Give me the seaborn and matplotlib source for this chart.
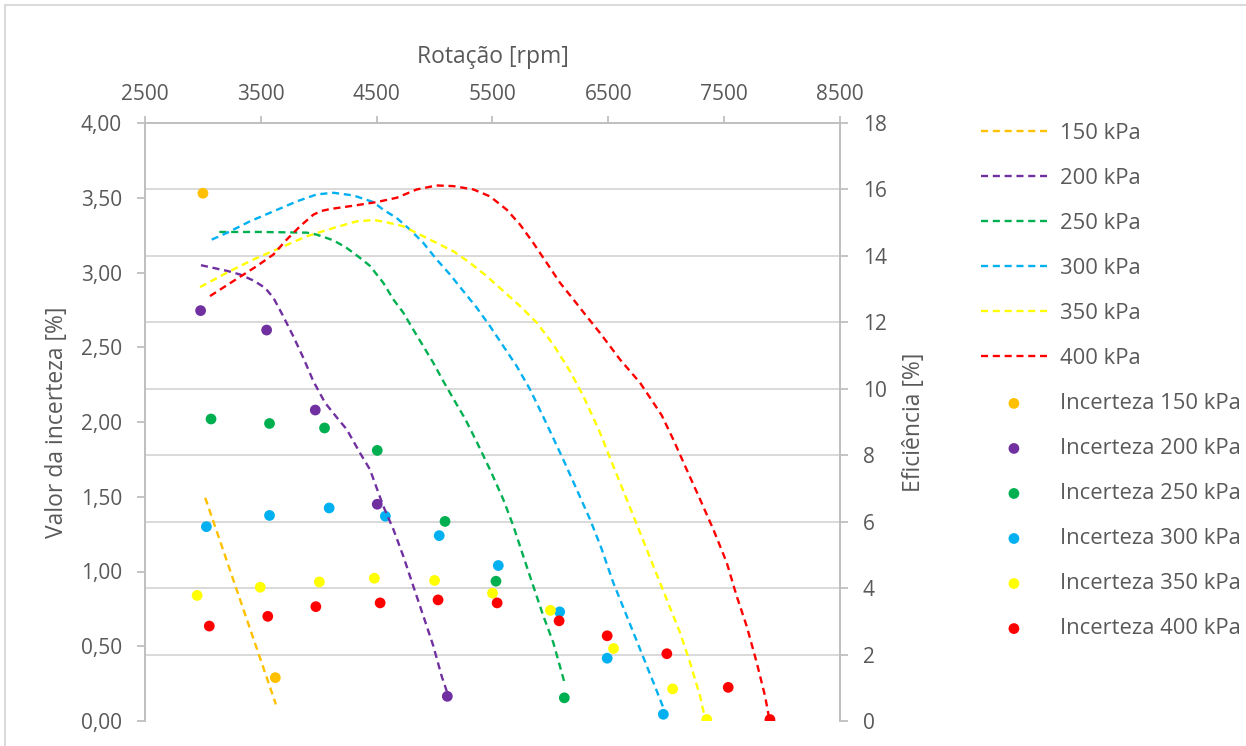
import numpy as np
import pandas as pd
import matplotlib
matplotlib.use("Agg")
import matplotlib.pyplot as plt
import seaborn as sns
from matplotlib.patches import Rectangle
from matplotlib.ticker import FuncFormatter

# ---------------- data ----------------
pressures = ["150 kPa", "200 kPa", "250 kPa", "300 kPa", "350 kPa", "400 kPa"]
colors = ["#FFC000", "#7030A0", "#00B050", "#00B0F0", "#FFFF00", "#FF0000"]

# efficiency curves (right axis, %)
eff_rpm_150 = [3020, 3630]
eff_150 = [6.72, 0.50]

eff_rpm_200 = [2983, 3219, 3320, 3435, 3536, 3608, 3694, 3780, 3867, 3953, 4054, 4169,
               4241, 4356, 4442, 4557, 4644, 4730, 4816, 4903, 4989, 5061, 5105]
eff_200 = [13.72, 13.54, 13.44, 13.26, 13.04, 12.74, 12.18, 11.58, 10.93, 10.23, 9.58, 9.08,
           8.78, 8.07, 7.57, 6.47, 5.77, 4.96, 4.06, 3.16, 2.26, 1.35, 0.90]

eff_rpm_250 = [3142, 3500, 3896, 3982, 4126, 4241, 4356, 4442, 4557, 4644, 4730, 4816,
               4903, 4989, 5075, 5162, 5263, 5364, 5478, 5593, 5680, 5766, 5852, 5939,
               6025, 6126]
eff_250 = [14.72, 14.72, 14.70, 14.64, 14.47, 14.24, 13.94, 13.70, 13.19, 12.69, 12.29, 11.78,
           11.28, 10.78, 10.23, 9.70, 9.10, 8.40, 7.57, 6.67, 5.87, 4.96, 4.06, 3.16,
           2.36, 1.10]

eff_rpm_300 = [3076, 3205, 3406, 3608, 3810, 3982, 4126, 4298, 4471, 4557, 4673, 4788,
               4903, 5018, 5133, 5248, 5364, 5479, 5594, 5709, 5824, 5939, 5997, 6111,
               6227, 6342, 6440, 6543, 6659, 6774, 6889, 6975]
eff_300 = [14.49, 14.69, 15.04, 15.34, 15.64, 15.85, 15.90, 15.82, 15.62, 15.39, 15.14, 14.79,
           14.39, 13.89, 13.44, 12.94, 12.44, 11.88, 11.28, 10.68, 9.98, 9.15, 8.72, 7.87,
           6.97, 6.07, 5.20, 4.16, 3.16, 2.16, 1.16, 0.40]

eff_rpm_350 = [2975, 3205, 3435, 3665, 3896, 4126, 4328, 4480, 4600, 4730, 4874, 5018,
               5162, 5306, 5450, 5594, 5738, 5882, 6025, 6169, 6284, 6370, 6428, 6543,
               6659, 6774, 6889, 7004, 7119, 7205, 7292, 7330]
eff_350 = [13.06, 13.49, 13.89, 14.24, 14.59, 14.84, 15.04, 15.08, 15.00, 14.89, 14.64, 14.39,
           14.14, 13.79, 13.39, 12.94, 12.49, 11.99, 11.33, 10.53, 9.78, 9.13, 8.68, 7.67,
           6.67, 5.67, 4.66, 3.66, 2.66, 1.76, 0.75, 0.15]

eff_rpm_400 = [3061, 3262, 3464, 3608, 3723, 3838, 3953, 4020, 4097, 4298, 4500, 4673,
               4846, 5018, 5162, 5335, 5479, 5623, 5738, 5852, 5968, 6083, 6198, 6313,
               6428, 6515, 6601, 6774, 6889, 6961, 7061, 7176, 7292, 7406, 7522, 7608,
               7694, 7781, 7853, 7885]
eff_400 = [12.79, 13.24, 13.69, 14.04, 14.49, 14.89, 15.24, 15.35, 15.41, 15.51, 15.62, 15.75,
           16.00, 16.12, 16.10, 16.00, 15.79, 15.39, 14.94, 14.39, 13.79, 13.19, 12.69, 12.18,
           11.68, 11.28, 10.88, 10.18, 9.58, 9.20, 8.47, 7.57, 6.67, 5.77, 4.77, 3.76,
           2.86, 1.76, 0.75, 0.15]

# uncertainty points (left axis, %)
unc_rpm_150 = [3000, 3625]
unc_150 = [3.53, 0.29]
unc_rpm_200 = [2980, 3550, 3970, 4505, 5110]
unc_200 = [2.745, 2.615, 2.08, 1.45, 0.165]
unc_rpm_250 = [3070, 3575, 4050, 4505, 5090, 5530, 6120]
unc_250 = [2.02, 1.99, 1.96, 1.81, 1.335, 0.935, 0.155]
unc_rpm_300 = [3030, 3575, 4090, 4575, 5040, 5550, 6080, 6490, 6975]
unc_300 = [1.30, 1.375, 1.425, 1.37, 1.24, 1.04, 0.73, 0.42, 0.045]
unc_rpm_350 = [2950, 3495, 4005, 4480, 5000, 5500, 6000, 6545, 7055, 7350]
unc_350 = [0.84, 0.895, 0.93, 0.955, 0.94, 0.855, 0.74, 0.485, 0.215, 0.01]
unc_rpm_400 = [3055, 3560, 3975, 4530, 5030, 5540, 6075, 6490, 7005, 7535, 7895]
unc_400 = [0.635, 0.70, 0.765, 0.79, 0.81, 0.79, 0.67, 0.57, 0.45, 0.225, 0.01]

x_ticks = [2500, 3500, 4500, 5500, 6500, 7500, 8500]
left_ticks = [0, 0.5, 1.0, 1.5, 2.0, 2.5, 3.0, 3.5, 4.0]
right_ticks = [0, 2, 4, 6, 8, 10, 12, 14, 16, 18]

eff_series = [(eff_rpm_150, eff_150), (eff_rpm_200, eff_200), (eff_rpm_250, eff_250),
              (eff_rpm_300, eff_300), (eff_rpm_350, eff_350), (eff_rpm_400, eff_400)]
unc_series = [(unc_rpm_150, unc_150), (unc_rpm_200, unc_200), (unc_rpm_250, unc_250),
              (unc_rpm_300, unc_300), (unc_rpm_350, unc_350), (unc_rpm_400, unc_400)]

# ---------------- style ----------------
sns.set_style("white")
plt.rcParams["font.family"] = ["Open Sans", "DejaVu Sans"]
TXT = "#595959"
AXC = "#bfbfbf"
GRID = "#d9d9d9"
FS = 15.0       # tick labels
FS_T = 16.5     # axis titles
FS_L = 15.8     # legend

W, H = 1246, 746
fig = plt.figure(figsize=(W / 100, H / 100), dpi=100)
L, R, T, B = 145, 840, 123, 721
ax = fig.add_axes([L / W, 1 - B / H, (R - L) / W, (B - T) / H])
ax2 = ax.twinx()

# scatter (uncertainty) on left axis
for lab, col, (xr, yv) in zip(pressures, colors, unc_series):
    df = pd.DataFrame({"rpm": xr, "val": yv})
    sns.scatterplot(data=df, x="rpm", y="val", color=col, s=60, edgecolor="none",
                    linewidth=0, ax=ax, label="Incerteza " + lab, zorder=3)

# efficiency curves on right axis
for lab, col, (xr, yv) in zip(pressures, colors, eff_series):
    df = pd.DataFrame({"rpm": xr, "eff": yv})
    sns.lineplot(data=df, x="rpm", y="eff", color=col, lw=1.7, sort=False,
                 estimator=None, ax=ax2, label=lab, linestyle=(0, (3.0, 2.0)))

for a in (ax, ax2):
    if a.get_legend() is not None:
        a.get_legend().remove()

ax.set_xlim(2500, 8500)
ax.set_ylim(0, 4)
ax2.set_ylim(0, 18)

# x axis on top
ax.xaxis.tick_top()
ax.xaxis.set_label_position("top")
ax.set_xticks(x_ticks)
ax.set_xticklabels([str(v) for v in x_ticks])
ax.tick_params(axis="x", which="major", direction="out", length=4.7, width=1.3,
               color=AXC, labelcolor=TXT, labelsize=FS, pad=8.5, top=True, bottom=False)

ax.set_yticks(left_ticks)
ax.yaxis.set_major_formatter(FuncFormatter(lambda v, p: f"{v:.2f}".replace(".", ",")))
ax.tick_params(axis="y", which="major", direction="out", length=6, width=1.3,
               color=AXC, labelcolor=TXT, labelsize=FS, pad=10.5)

# gridlines follow the right (efficiency) axis
ax.set_yticks([v * 4 / 18 for v in right_ticks], minor=True)
ax.tick_params(axis="y", which="minor", length=0)
ax.grid(False)
ax.grid(which="minor", axis="y", color=GRID, lw=1.4)
ax.set_axisbelow(True)

ax2.set_yticks(right_ticks)
ax2.tick_params(axis="y", direction="out", length=5.5, width=1.3, color=AXC,
                labelcolor=TXT, labelsize=FS, pad=11)
ax2.grid(False)

for s in ("top", "left"):
    ax.spines[s].set_color(AXC)
    ax.spines[s].set_linewidth(1.4)
ax.spines["bottom"].set_visible(False)
ax.spines["right"].set_visible(False)
for s in ("top", "left", "bottom"):
    ax2.spines[s].set_visible(False)
ax2.spines["right"].set_color(AXC)
ax2.spines["right"].set_linewidth(1.4)

# axis titles
ax.set_xlabel("Rotação [rpm]", fontsize=FS_T, color=TXT)
ax.xaxis.label.set_va("center")
ax.xaxis.set_label_coords(0.5, (B - 57) / (B - T))
ax.set_ylabel("Valor da incerteza [%]", fontsize=FS_T, color=TXT)
ax.yaxis.label.set_va("center")
ax.yaxis.set_label_coords((57 - L) / (R - L), 0.5)
ax2.set_ylabel("Eficiência [%]", fontsize=FS_T, color=TXT)
ax2.yaxis.label.set_va("center")
ax2.yaxis.set_label_coords((914 - L) / (R - L), 0.5)

# legend
h2, l2 = ax2.get_legend_handles_labels()
h1, l1 = ax.get_legend_handles_labels()
fig.legend(h2 + h1, l2 + l1, loc="upper left", bbox_to_anchor=(981 / W, 1 - 123 / H),
           frameon=False, borderpad=0, borderaxespad=0, handlelength=3.0,
           handletextpad=0.6, labelspacing=1.095, fontsize=FS_L, labelcolor=TXT)

# outer chart border
fig.add_artist(Rectangle((4.5 / W, -0.1), 2.0, 1.1 - 5 / H, transform=fig.transFigure,
                         fill=False, ec=GRID, lw=1.4))

fig.savefig("out.png", dpi=100, facecolor="white")
